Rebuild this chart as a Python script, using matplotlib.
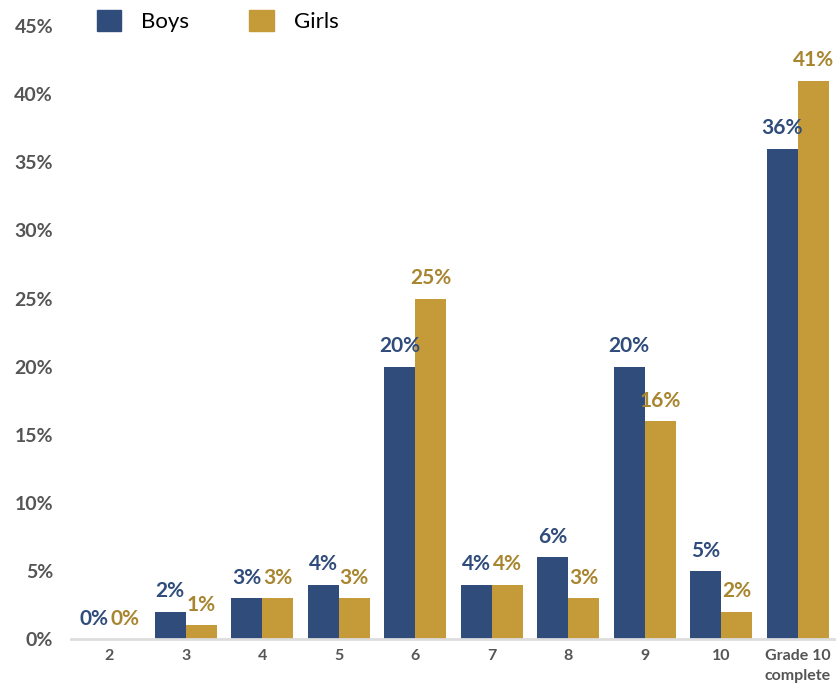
import matplotlib
matplotlib.use("Agg")
import matplotlib.pyplot as plt
import numpy as np
from matplotlib.patches import Patch

categories = ["2", "3", "4", "5", "6", "7", "8", "9", "10", "Grade 10\ncomplete"]
boys = [0, 2, 3, 4, 20, 4, 6, 20, 5, 36]
girls = [0, 1, 3, 3, 25, 4, 3, 16, 2, 41]
yticks = [0, 5, 10, 15, 20, 25, 30, 35, 40, 45]

BOY_C = "#2f4c7b"
GIRL_C = "#c59b3a"
GIRL_TXT = "#a8852f"
GREY = "#555555"

plt.rcParams["font.family"] = ["Lato", "DejaVu Sans"]

fig = plt.figure(figsize=(8.36, 6.85), dpi=100)
ax = fig.add_axes([0.085, 0.067, 0.915, 0.895])

x = np.arange(len(categories))
w = 0.405
b1 = ax.bar(x - w / 2, boys, w, color=BOY_C, label="Boys")
b2 = ax.bar(x + w / 2, girls, w, color=GIRL_C, label="Girls")

for rects, vals, col in ((b1, boys, BOY_C), (b2, girls, GIRL_TXT)):
    for r, v in zip(rects, vals):
        ax.annotate(f"{v}%", (r.get_x() + r.get_width() / 2, v),
                    xytext=(0, 7.5), textcoords="offset points",
                    ha="center", va="bottom", color=col,
                    fontsize=15, fontweight="bold")

ax.set_xlim(-0.5, len(categories) - 0.5)
ax.set_ylim(0, 45.0)
ax.set_yticks(yticks)
ax.set_yticklabels([f"{t}%" for t in yticks], fontsize=14, fontweight="bold", color=GREY)
ax.set_xticks(x)
ax.set_xticklabels(categories, fontsize=11.5, fontweight="bold", color=GREY, linespacing=1.6)
ax.tick_params(axis="both", length=0)
ax.tick_params(axis="y", pad=13)
ax.tick_params(axis="x", pad=7)
for s in ("top", "right", "left"):
    ax.spines[s].set_visible(False)
ax.spines["bottom"].set_color("#dddddd")
ax.spines["bottom"].set_linewidth(2)

handles = [Patch(color=BOY_C, label="Boys"), Patch(color=GIRL_C, label="Girls")]
fig.legend(handles=handles, loc="upper left", bbox_to_anchor=(0.097, 1.008),
           ncol=2, frameon=False, fontsize=16, handlelength=1.1, handleheight=1.1,
           handletextpad=0.9, columnspacing=2.7, borderaxespad=0.3)

fig.savefig("out.png", dpi=100)
